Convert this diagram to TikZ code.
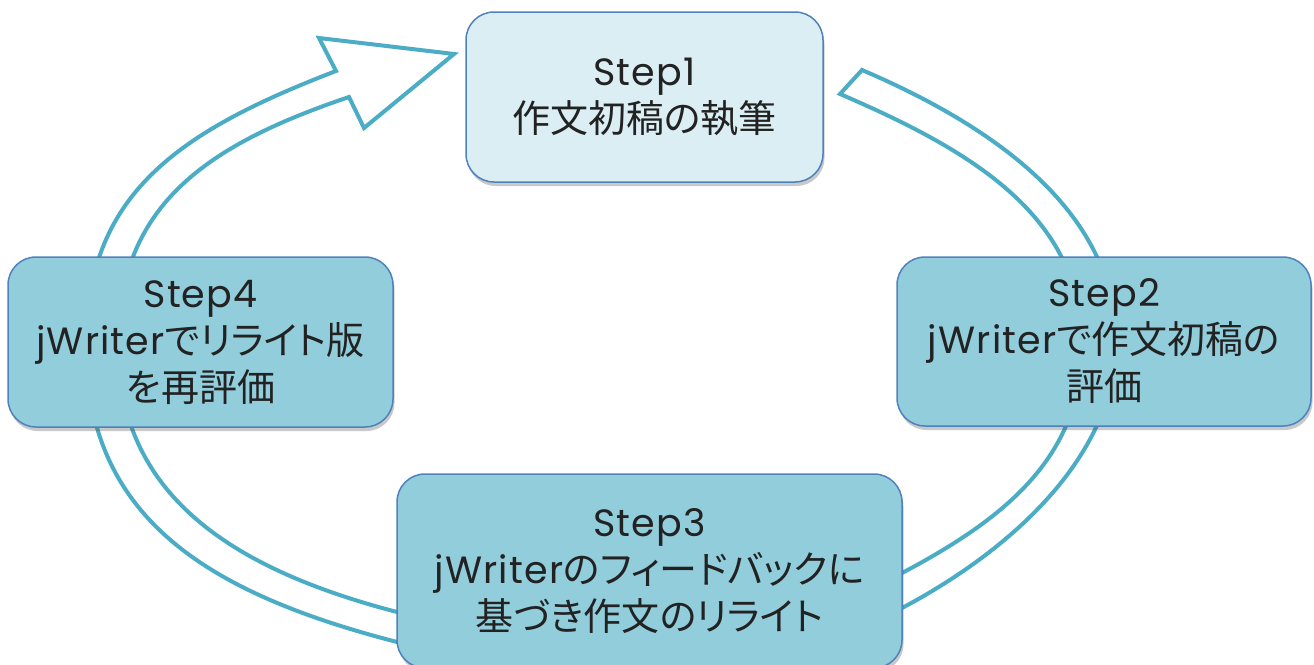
\documentclass[tikz,border=0pt]{standalone}
\usepackage{fontspec}
\newfontfamily\lat[LetterSpace=3]{Poppins}
\newfontfamily\cjk[RawFeature=+palt]{Noto Sans CJK JP}
\usetikzlibrary{shadows}
\definecolor{arrowc}{HTML}{4BACC6}
\definecolor{boxline}{HTML}{4F81BD}
\definecolor{lightfill}{HTML}{DBEEF4}
\definecolor{darkfill}{HTML}{92CDDC}
\definecolor{txt}{HTML}{222222}
\tikzset{
  stepbox/.style={draw=boxline, line width=1.5pt, rounded corners=28pt,
    fill=darkfill, align=center, inner sep=0pt, text=txt,
    font=\fontsize{38}{47}\selectfont,
    drop shadow={shadow xshift=1.5pt, shadow yshift=-4pt, opacity=0.3, fill=black!70}},
  firstbox/.style={stepbox, fill=lightfill},
  cyclearrow/.style={draw=arrowc, line width=4pt, fill=white, line join=miter}
}
\begin{document}
\begin{tikzpicture}[x=1pt, y=-1pt]
\useasboundingbox (0,0) rectangle (1314,664);
\clip (0,0) rectangle (1314,664);
% big hollow cycle arrow (outer edge clockwise, head, inner edge back)
\draw[cyclearrow] (862,70)
  .. controls (1000,129) and (1116,215) .. (1116,342)
  .. controls (1116,452) and (1017,547) .. (902,608)
  .. controls (814,655) and (494,667) .. (397,642)
  .. controls (203,592) and (86,515) .. (86,345)
  .. controls (86,195) and (177,132) .. (336,71)
  -- (319,38) -- (454,54) -- (364,128) -- (349,97)
  .. controls (207,145) and (118,205) .. (118,345)
  .. controls (118,495) and (232,569) .. (397,612)
  .. controls (494,637) and (813,619) .. (902,573)
  .. controls (1008,517) and (1082,455) .. (1082,345)
  .. controls (1082,215) and (970,150) .. (840,94)
  -- cycle;
% step boxes
\node[firstbox, minimum width=357pt, minimum height=170pt] (s1) at (644.5,97)
  {{\lat Step1}\\{\cjk 作文初稿の執筆}};
\node[stepbox, minimum width=414pt, minimum height=169pt] (s2) at (1104,341.5)
  {{\lat Step2}\\{\lat jWriter}{\cjk で作文初稿の}\\{\cjk 評価}};
\node[stepbox, minimum width=505pt, minimum height=194pt] (s3) at (649.5,571)
  {{\lat Step3}\\{\lat jWriter}{\cjk のフィードバックに}\\{\cjk 基づき作文のリライト}};
\node[stepbox, minimum width=385pt, minimum height=170pt] (s4) at (200.5,342)
  {{\lat Step4}\\{\lat jWriter}{\cjk でリライト版}\\{\cjk を再評価}};
\end{tikzpicture}
\end{document}
